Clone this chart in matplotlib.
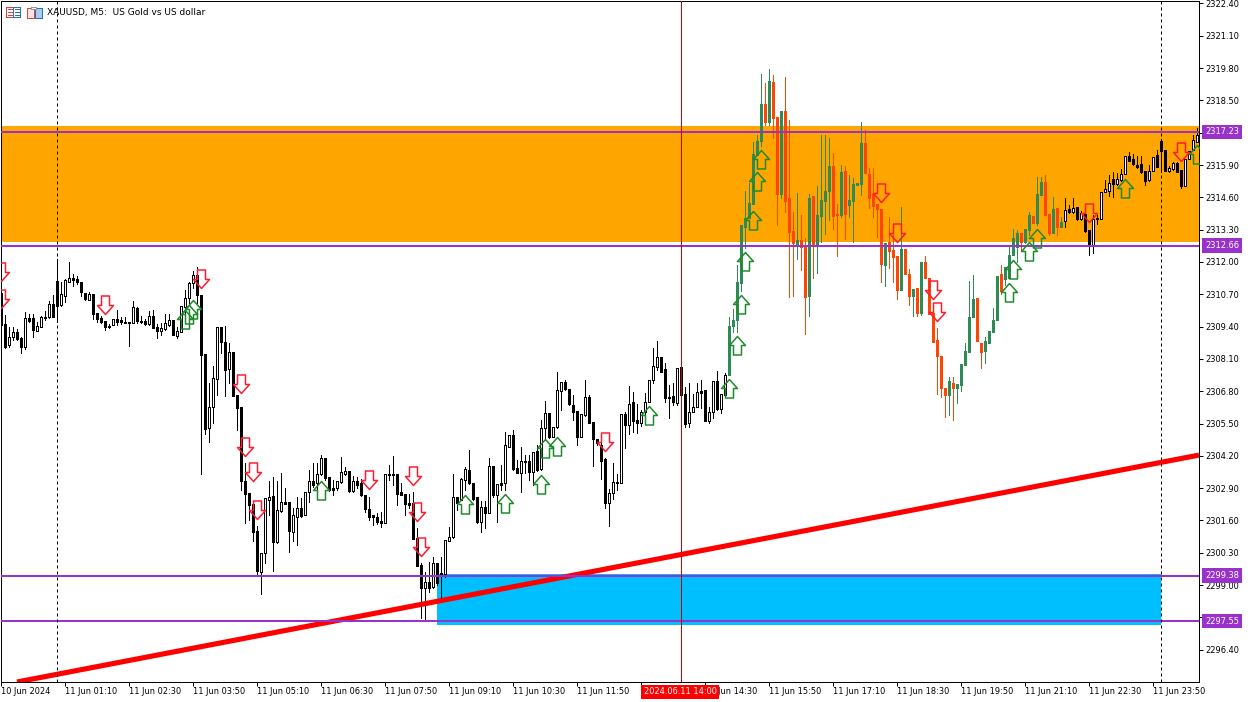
import matplotlib
matplotlib.use("Agg")
import matplotlib.pyplot as plt
from matplotlib.path import Path
from matplotlib.patches import Rectangle
from matplotlib.transforms import blended_transform_factory

# M5 candles, one value per bar
opens = [2310.75,2309.50,2308.66,2308.98,2309.18,2308.94,2308.58,2309.74,2309.74,2309.22,
2309.38,2309.74,2309.78,2310.31,2311.23,2310.27,2310.63,2311.19,2311.35,2311.31,
2311.19,2310.75,2310.47,2310.71,2309.94,2309.74,2309.62,2309.42,2309.46,2309.70,
2309.66,2309.58,2309.58,2309.54,2310.15,2309.62,2309.62,2309.50,2309.82,2309.38,
2309.22,2309.30,2309.46,2309.66,2309.02,2309.18,2310.19,2310.55,2311.15,2311.47,
2310.67,2308.29,2305.32,2306.16,2307.29,2309.38,2308.78,2307.69,2308.38,2306.65,
2306.16,2303.18,2302.70,2302.26,2301.17,2299.52,2300.29,2302.42,2302.58,2300.73,
2301.98,2302.26,2302.34,2301.13,2301.74,2302.10,2301.82,2302.74,2303.18,2303.10,
2303.47,2304.11,2303.35,2302.90,2302.90,2303.14,2303.47,2303.59,2302.78,2303.18,
2303.10,2302.62,2302.06,2301.82,2301.74,2301.57,2301.49,2303.43,2303.43,2303.47,
2302.74,2302.66,2302.30,2302.30,2300.89,2299.80,2298.88,2299.12,2298.92,2299.89,
2299.48,2299.44,2300.77,2300.93,2302.54,2302.42,2303.22,2303.63,2303.10,2302.54,
2301.53,2302.14,2301.90,2303.79,2302.62,2303.02,2303.10,2304.55,2305.04,2303.71,
2303.51,2303.95,2303.99,2303.55,2304.39,2303.67,2305.32,2305.92,2304.95,2305.36,
2306.81,2307.17,2306.89,2306.24,2306.00,2304.95,2305.84,2306.57,2305.56,2304.87,
2304.63,2304.07,2302.30,2302.70,2303.14,2303.10,2305.88,2305.44,2306.36,2305.64,
2305.52,2305.96,2306.36,2307.25,2307.77,2308.17,2307.69,2306.57,2306.61,2306.32,
2307.77,2306.69,2305.52,2305.96,2306.16,2306.73,2306.85,2305.60,2305.96,2307.21,
2306.08,2306.65,2307.45,2309.42,2309.66,2311.15,2313.41,2313.77,2314.33,2316.30,
2316.87,2318.35,2317.63,2319.24,2317.83,2314.73,2318.07,2314.57,2313.24,2312.72,
2312.88,2312.64,2310.63,2314.65,2312.64,2313.85,2314.45,2314.85,2315.86,2313.93,
2313.89,2315.66,2314.29,2314.45,2315.10,2315.14,2316.79,2315.54,2314.73,2314.33,
2314.13,2311.88,2312.80,2312.48,2312.24,2310.87,2312.52,2311.51,2310.63,2310.95,
2309.94,2312.00,2311.35,2309.94,2308.86,2308.21,2306.93,2306.65,2307.13,2306.93,
2307.05,2307.85,2308.38,2309.78,2310.55,2308.74,2308.42,2308.74,2309.18,2309.66,
2311.51,2311.31,2311.35,2312.28,2312.60,2313.16,2312.80,2313.28,2313.85,2313.57,
2314.69,2315.22,2313.93,2313.16,2314.17,2313.41,2313.65,2314.13,2314.01,2314.21,
2313.73,2313.93,2313.28,2312.68,2313.77,2313.73,2314.81,2314.85,2315.34,2315.14,
2315.30,2315.54,2316.26,2316.14,2315.90,2315.94,2315.66,2315.30,2315.66,2316.30,
2316.87,2316.50,2315.66,2315.74,2315.98,2315.70,2315.06,2316.14,2316.50,2316.83]

highs = [2310.75,2309.86,2309.38,2309.38,2309.30,2308.98,2309.99,2309.90,2309.90,2309.58,
2309.82,2310.03,2310.43,2310.67,2312.12,2311.19,2311.31,2312.00,2311.51,2311.43,
2311.19,2310.75,2310.79,2310.71,2309.94,2309.82,2309.62,2309.50,2309.70,2310.07,
2309.78,2309.78,2309.58,2310.43,2310.19,2309.82,2309.70,2310.03,2310.07,2309.50,
2309.54,2309.90,2309.90,2309.66,2309.38,2310.23,2310.87,2311.19,2311.63,2311.80,
2310.67,2308.29,2307.13,2307.81,2309.38,2309.38,2309.42,2308.74,2308.38,2306.65,
2306.16,2303.91,2302.70,2302.26,2301.37,2300.29,2302.50,2303.18,2303.35,2303.18,
2303.51,2302.90,2302.34,2302.10,2302.54,2302.50,2302.74,2303.63,2303.91,2303.91,
2304.23,2304.11,2303.35,2303.22,2303.18,2304.15,2303.75,2303.59,2303.39,2303.35,
2303.26,2302.62,2302.54,2301.82,2301.90,2301.94,2303.47,2303.83,2304.19,2303.47,
2303.10,2302.66,2302.66,2302.74,2301.29,2299.89,2299.52,2299.93,2300.13,2299.89,
2300.13,2300.81,2301.33,2303.47,2302.54,2303.30,2303.75,2304.43,2303.10,2302.54,
2302.38,2302.38,2304.11,2303.79,2303.06,2303.83,2305.16,2305.04,2305.24,2304.03,
2304.55,2304.23,2304.23,2304.35,2304.63,2305.64,2306.40,2305.92,2305.36,2307.57,
2307.17,2307.25,2306.89,2306.65,2306.00,2305.88,2307.25,2306.65,2305.56,2304.87,
2304.71,2304.11,2302.86,2303.91,2303.47,2305.88,2305.96,2307.01,2306.77,2306.28,
2306.04,2306.73,2307.25,2308.54,2308.82,2308.17,2307.93,2307.05,2307.13,2307.73,
2307.77,2306.97,2307.13,2306.69,2307.13,2307.25,2306.85,2306.16,2307.21,2307.61,
2306.69,2307.53,2309.78,2310.11,2311.88,2313.49,2314.85,2315.18,2316.83,2317.11,
2319.56,2319.20,2319.76,2319.52,2317.83,2318.07,2319.44,2317.71,2314.01,2314.77,
2313.89,2312.96,2314.73,2314.65,2315.06,2317.11,2317.11,2316.99,2316.38,2314.33,
2315.90,2315.86,2315.50,2315.38,2315.18,2317.63,2317.31,2315.78,2315.78,2314.33,
2314.13,2312.76,2313.81,2313.16,2312.24,2314.21,2312.52,2311.72,2310.91,2310.95,
2312.00,2312.24,2311.35,2309.94,2309.34,2308.21,2306.93,2307.37,2307.37,2307.09,
2307.89,2308.74,2311.23,2311.47,2310.55,2308.74,2308.98,2309.22,2310.15,2311.43,
2311.88,2311.80,2312.60,2313.32,2313.28,2313.16,2313.32,2314.01,2313.85,2315.42,
2315.42,2315.50,2313.93,2314.61,2314.17,2313.81,2314.57,2314.29,2314.57,2314.21,
2314.05,2313.93,2313.28,2313.89,2313.89,2314.81,2315.30,2315.50,2315.62,2315.58,
2315.74,2316.26,2316.42,2316.34,2316.26,2316.26,2315.66,2315.90,2316.22,2316.50,
2316.95,2316.50,2315.86,2316.02,2316.02,2315.70,2316.14,2316.46,2317.11,2317.39]

lows = [2309.38,2308.54,2308.58,2308.86,2308.86,2308.34,2308.50,2309.58,2308.98,2309.22,
2309.38,2309.66,2309.74,2309.78,2309.58,2310.23,2310.39,2311.19,2311.03,2311.11,
2310.63,2310.47,2310.47,2309.70,2309.58,2309.54,2309.26,2309.34,2309.46,2309.46,
2309.50,2309.54,2308.62,2309.54,2309.54,2309.54,2309.46,2309.46,2309.34,2308.94,
2309.06,2309.26,2309.42,2309.06,2308.94,2309.18,2309.86,2310.27,2310.95,2310.35,
2303.47,2305.08,2304.75,2305.52,2306.65,2308.34,2306.61,2307.13,2306.61,2305.24,
2302.82,2301.49,2301.62,2300.77,2299.40,2298.64,2299.89,2301.82,2299.56,2300.69,
2301.94,2302.26,2300.33,2300.77,2300.61,2301.74,2301.82,2302.34,2302.94,2302.82,
2303.43,2303.22,2302.78,2302.62,2302.82,2303.10,2303.43,2302.74,2302.74,2302.90,
2302.58,2301.94,2301.62,2301.41,2301.45,2301.33,2301.49,2303.22,2303.02,2302.22,
2302.62,2301.82,2302.10,2300.85,2299.76,2297.67,2297.59,2298.72,2298.88,2299.00,
2298.52,2299.32,2300.77,2300.89,2302.02,2302.42,2302.82,2303.06,2302.42,2301.49,
2301.13,2301.29,2301.90,2302.54,2301.53,2302.82,2302.82,2304.55,2303.63,2303.51,
2302.74,2303.51,2303.22,2303.02,2303.59,2303.63,2304.83,2304.91,2304.95,2305.32,
2306.04,2306.85,2306.24,2305.64,2304.63,2304.95,2305.80,2305.52,2303.79,2304.63,
2303.27,2302.10,2301.37,2302.46,2302.82,2303.10,2304.51,2305.08,2305.16,2305.12,
2305.40,2305.84,2306.36,2307.13,2307.65,2307.57,2306.36,2305.72,2306.24,2306.24,
2306.65,2305.36,2305.36,2305.96,2306.16,2306.12,2305.60,2305.52,2305.72,2306.04,
2305.92,2306.65,2307.45,2309.18,2309.18,2310.83,2312.56,2313.77,2314.33,2316.30,
2316.67,2317.51,2317.51,2316.99,2313.49,2314.57,2314.01,2310.59,2310.63,2312.12,
2311.67,2309.10,2309.82,2311.35,2311.55,2312.80,2313.12,2313.69,2313.32,2312.24,
2313.81,2312.92,2313.81,2312.80,2315.10,2314.69,2315.58,2314.17,2313.81,2313.00,
2311.19,2311.03,2311.76,2311.19,2310.51,2310.87,2311.51,2310.27,2309.82,2309.82,
2309.86,2311.35,2309.90,2308.78,2306.69,2306.57,2305.76,2305.84,2305.64,2306.32,
2306.81,2307.85,2308.38,2309.78,2308.82,2307.73,2307.93,2308.74,2309.18,2309.66,
2310.71,2311.07,2311.35,2312.28,2312.00,2312.44,2312.76,2313.08,2313.57,2313.49,
2314.69,2313.89,2313.08,2313.16,2313.08,2313.41,2313.41,2313.97,2313.97,2313.69,
2313.69,2313.20,2312.28,2312.36,2313.53,2313.73,2314.81,2314.65,2314.61,2315.10,
2315.26,2315.54,2316.06,2315.90,2315.78,2315.58,2315.10,2315.26,2315.66,2315.82,
2315.62,2315.66,2315.62,2315.70,2315.62,2314.97,2315.06,2316.14,2316.50,2316.83]

closes = [2309.46,2308.58,2308.98,2309.18,2308.90,2308.58,2309.74,2309.62,2309.26,2309.42,
2309.78,2309.78,2310.31,2309.78,2310.23,2310.71,2311.27,2311.35,2311.27,2311.19,
2310.79,2310.51,2310.71,2309.90,2309.70,2309.58,2309.38,2309.38,2309.70,2309.58,
2309.58,2309.54,2309.54,2310.19,2309.62,2309.58,2309.50,2309.82,2309.34,2309.22,
2309.34,2309.54,2309.66,2309.06,2309.22,2310.23,2310.55,2311.15,2311.47,2310.67,
2308.25,2305.28,2306.16,2307.33,2309.38,2308.78,2307.65,2308.38,2306.61,2306.12,
2303.18,2302.66,2302.22,2301.13,2299.56,2300.29,2302.50,2302.54,2300.73,2302.02,
2302.34,2302.34,2301.17,2301.82,2302.10,2301.78,2302.74,2303.18,2303.02,2303.47,
2304.11,2303.31,2302.82,2302.82,2303.18,2303.55,2303.59,2302.78,2303.18,2303.02,
2302.62,2302.06,2301.74,2301.74,2301.53,2301.49,2303.47,2303.47,2303.47,2302.66,
2302.62,2302.26,2302.22,2300.85,2299.76,2298.88,2299.12,2298.88,2299.89,2299.08,
2299.36,2300.81,2300.93,2302.54,2302.30,2303.26,2303.67,2303.10,2302.46,2301.53,
2302.14,2301.90,2303.79,2302.62,2303.06,2303.10,2304.63,2305.04,2303.67,2303.51,
2303.99,2303.99,2303.55,2304.35,2303.63,2305.32,2305.92,2304.95,2305.36,2306.85,
2307.17,2306.89,2306.28,2305.96,2304.95,2305.88,2306.57,2305.52,2304.87,2304.71,
2303.99,2302.30,2302.70,2303.14,2303.10,2305.88,2305.44,2306.28,2305.60,2305.52,
2305.96,2306.36,2307.25,2307.81,2308.17,2307.57,2306.52,2306.52,2306.36,2307.73,
2306.65,2305.48,2305.96,2306.16,2306.77,2306.81,2305.60,2305.96,2307.21,2306.08,
2306.69,2307.45,2309.42,2309.66,2311.19,2313.49,2313.77,2314.37,2316.34,2316.87,
2318.35,2317.63,2319.28,2317.79,2314.73,2318.07,2314.45,2313.20,2312.76,2312.88,
2312.60,2310.59,2314.57,2312.64,2313.89,2314.49,2314.85,2315.86,2313.85,2313.89,
2315.62,2313.93,2314.49,2315.14,2315.18,2316.79,2315.58,2314.57,2314.25,2314.13,
2311.92,2312.76,2312.44,2312.20,2310.87,2312.52,2311.51,2310.63,2310.91,2309.94,
2312.00,2311.35,2309.90,2308.78,2308.21,2306.93,2306.65,2307.21,2306.93,2307.09,
2307.89,2308.42,2309.78,2310.51,2308.82,2308.38,2308.82,2309.22,2309.66,2311.43,
2310.83,2311.80,2312.28,2312.96,2313.16,2312.80,2313.32,2313.89,2313.57,2314.73,
2315.22,2313.89,2313.16,2314.13,2313.41,2313.61,2314.09,2314.01,2314.17,2313.73,
2313.97,2313.24,2312.68,2313.73,2313.73,2314.81,2314.93,2315.18,2315.14,2315.34,
2315.54,2316.26,2316.06,2315.94,2315.82,2315.62,2315.26,2315.66,2316.22,2315.82,
2316.46,2315.66,2315.78,2315.98,2315.62,2315.06,2316.14,2316.46,2316.91,2317.11]

# bars inside this range are painted green / orange by the indicator
colored_from = 182
colored_to = 265

# signal arrows: bar index and price at the tip
down_bars = [0,0,26,50,60,61,63,64,92,103,104,105,151,220,224,233,234,272,295]
down_tips = [2311.23,2310.15,2309.90,2310.95,2306.73,2304.19,2303.18,2301.66,2302.86,2303.02,
             2301.57,2300.17,2304.39,2314.41,2312.80,2310.51,2309.62,2313.61,2316.06]
up_bars = [46,47,48,80,116,126,135,136,139,162,182,184,185,186,188,189,190,252,253,257,259,281,299]
up_tips = [2310.07,2310.27,2310.47,2303.18,2302.62,2302.66,2303.43,2304.87,2304.95,2306.20,2307.29,
           2309.02,2310.67,2312.40,2314.05,2315.62,2316.50,2311.15,2312.08,2312.80,2313.32,2315.34,2316.70]

# levels and zones
level_prices = [2317.23, 2312.66, 2299.38, 2297.55]
level_labels = ["2317.23", "2312.66", "2299.38", "2297.55"]
supply_zone = (2312.80, 2317.47)
demand_zone = (2297.39, 2299.44)
demand_bars = (109, 290)
trend_bars = [4, 299.5]
trend_prices = [2295.10, 2304.23]
dashed_bars = [14, 290]
cursor_bar = 170

y_ticks = [2296.40, 2297.70, 2299.00, 2300.30, 2301.60, 2302.90, 2304.20, 2305.50, 2306.80, 2308.10, 2309.40,
           2310.70, 2312.00, 2313.30, 2314.60, 2315.90, 2317.20, 2318.50, 2319.80, 2321.10, 2322.40]
# 2317.20 and 13:10 sit under the tags in the terminal, so they stay blank
y_tick_labels = [f"{t:.2f}" if t != 2317.20 else "" for t in y_ticks]
x_tick_bars = [0,16,32,48,64,80,96,112,128,144,160,176,192,208,224,240,256,272,288]
x_tick_labels = ["10 Jun 2024","11 Jun 01:10","11 Jun 02:30","11 Jun 03:50","11 Jun 05:10","11 Jun 06:30",
                 "11 Jun 07:50","11 Jun 09:10","11 Jun 10:30","11 Jun 11:50","","11 Jun 14:30",
                 "11 Jun 15:50","11 Jun 17:10","11 Jun 18:30","11 Jun 19:50","11 Jun 21:10","11 Jun 22:30",
                 "11 Jun 23:50"]
title = "XAUUSD, M5:  US Gold vs US dollar"
cursor_label = "2024.06.11 14:00"

PX = 0.72  # one pixel in points at dpi 100
FONT = 8.3 * PX
W, H = 1250, 702
PRICE_PX = 27.4 / 681  # price span of one pixel


def arrow_marker(direction):
    """Hollow arrow with the tip at the origin, sized in pixels."""
    verts = [(0, 0), (8, -9), (4, -9), (4, -18.5), (-4, -18.5), (-4, -9), (-8, -9), (0, 0)]
    if direction == "down":
        verts = [(x, -y) for x, y in verts]
    return Path(verts, closed=True)


def draw_candles(ax):
    for i in range(len(opens)):
        up = closes[i] >= opens[i]
        colored = colored_from <= i <= colored_to
        if colored:
            line = "#2e8b57" if up else "#ff4500"
        else:
            line = "black"
        top = max(opens[i], closes[i])
        bot = min(opens[i], closes[i])
        if top - bot < PRICE_PX:
            top = bot + PRICE_PX
        ax.vlines(i, lows[i], highs[i], color=line, lw=PX, zorder=3, antialiased=False)
        ax.vlines(i, bot, top, color=line, lw=3 * PX, zorder=3.1, antialiased=False, capstyle="butt")
        if up and not colored and top - bot > 2 * PRICE_PX:
            ax.vlines(i, bot + PRICE_PX, top - PRICE_PX, color="white", lw=PX, zorder=3.2,
                      antialiased=False, capstyle="butt")


def draw_icons(fig):
    def box(x, y, w, h, edge, face="none"):
        fig.add_artist(Rectangle((x / W, 1 - (y + h) / H), w / W, h / H, facecolor=face, edgecolor=edge,
                                 linewidth=PX, transform=fig.transFigure, antialiased=False))
    box(6, 7, 7, 10, "#d9453d", "white")
    box(13, 7, 7, 10, "#2a6fb5", "white")
    for y in (9, 12, 15):
        box(8, y, 4, 0, "#d9453d")
        box(15, y, 4, 0, "#2a6fb5")
    box(27, 8, 7, 10, "#d9453d", "#fbe4e2")
    box(35, 8, 7, 10, "#2a6fb5", "#a9cdf0")
    box(31, 7, 5, 2, "#9a9a9a", "white")


def main():
    fig = plt.figure(figsize=(W / 100, H / 100), dpi=100, facecolor="white")
    ax = fig.add_axes([1 / W, 1 - 682 / H, 1198 / W, 681 / H])
    ax.set_xlim(0, 299.5)
    ax.set_ylim(2295.10, 2322.50)

    ax.axhspan(supply_zone[0], supply_zone[1], color="#ffa500", lw=0, zorder=1)
    ax.add_patch(Rectangle((demand_bars[0], demand_zone[0]), demand_bars[1] - demand_bars[0],
                           demand_zone[1] - demand_zone[0], facecolor="#00bfff", lw=0, zorder=1))

    draw_candles(ax)

    ax.plot(trend_bars, trend_prices, color="red", lw=3.7, zorder=4, solid_capstyle="butt")
    for p in level_prices:
        ax.axhline(p, color="#9932cc", lw=2 * PX, zorder=5)
    for b in dashed_bars:
        ax.axvline(b, color="black", lw=PX, ls=(0, (3, 3)), zorder=5)
    ax.axvline(cursor_bar, color="#d00000", lw=PX, zorder=5)

    ax.plot(down_bars, down_tips, ls="none", marker=arrow_marker("down"), ms=2 * 18.5 * PX,
            mfc="none", mec="#ff1a2e", mew=1.5 * PX, zorder=6)
    ax.plot(up_bars, up_tips, ls="none", marker=arrow_marker("up"), ms=2 * 18.5 * PX,
            mfc="none", mec="#1f8a2a", mew=1.5 * PX, zorder=6)

    ax.yaxis.tick_right()
    ax.set_yticks(y_ticks, y_tick_labels)
    ax.set_xticks(x_tick_bars, x_tick_labels, ha="left")
    ax.tick_params(axis="y", length=4 * PX, width=PX, pad=2 * PX, labelsize=FONT)
    ax.tick_params(axis="x", length=4 * PX, width=PX, pad=1 * PX, labelsize=FONT)
    for s in ax.spines.values():
        s.set_linewidth(PX)

    # price tags over the axis labels
    tag_trans = blended_transform_factory(fig.transFigure, ax.transData)
    for p, lab in zip(level_prices, level_labels):
        ax.text(1205 / W, p, lab, transform=tag_trans, color="white", fontsize=FONT, va="center", ha="left",
                clip_on=False, zorder=10,
                bbox=dict(facecolor="#9932cc", edgecolor="none", pad=1.9))

    # time tag under the cursor line
    time_trans = blended_transform_factory(ax.transData, fig.transFigure)
    ax.text(cursor_bar - 0.25, 1 - 692 / H, cursor_label, transform=time_trans, color="white", fontsize=FONT,
            va="center", ha="center", clip_on=False, zorder=10,
            bbox=dict(facecolor="red", edgecolor="none", pad=1.9))

    fig.text(47 / W, 1 - 13 / H, title, fontsize=9 * PX, va="center", ha="left", color="black")
    draw_icons(fig)

    fig.savefig("out.png", dpi=100)


if __name__ == "__main__":
    main()
